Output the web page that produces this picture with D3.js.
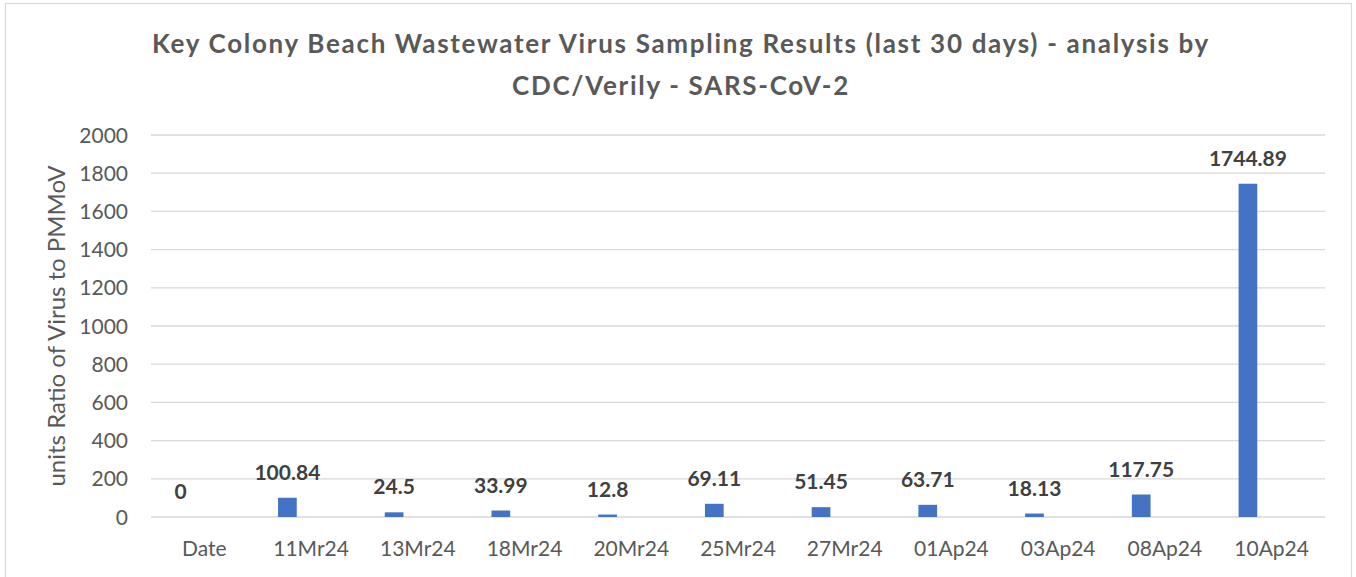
<!DOCTYPE html>
<html>
<head>
<meta charset="utf-8">
<script src="https://cdn.jsdelivr.net/npm/d3@7"></script>
<style>
  body { margin: 0; background: #fff; }
  text { font-family: Lato, "Open Sans", sans-serif; }
</style>
</head>
<body>
<div id="chart"></div>
<script>
// chart data
const categories = ["Date", "11Mr24", "13Mr24", "18Mr24", "20Mr24", "25Mr24", "27Mr24", "01Ap24", "03Ap24", "08Ap24", "10Ap24"];
const values = [0, 100.84, 24.5, 33.99, 12.8, 69.11, 51.45, 63.71, 18.13, 117.75, 1744.89];
const yTicks = [0, 200, 400, 600, 800, 1000, 1200, 1400, 1600, 1800, 2000];
const titleLines = ["Key Colony Beach Wastewater Virus Sampling Results (last 30 days) - analysis by", "CDC/Verily - SARS-CoV-2"];
const yTitle = "units Ratio of Virus to PMMoV";

const width = 1356, height = 577;
const plot = {left: 151, right: 1325, top: 135, bottom: 517};

const svg = d3.select("#chart").append("svg")
    .attr("width", width)
    .attr("height", height);

// outer border
svg.append("rect")
    .attr("x", 5.5).attr("y", 3.5)
    .attr("width", 1346).attr("height", 580)
    .attr("fill", "none")
    .attr("stroke", "#d9d9d9")
    .attr("stroke-width", 1.2);

const x = d3.scaleBand()
    .domain(categories)
    .range([plot.left, plot.right]);

const y = d3.scaleLinear()
    .domain([0, 2000])
    .range([plot.bottom, plot.top]);

// gridlines
svg.append("g")
    .selectAll("line")
    .data(yTicks)
    .join("line")
        .attr("x1", plot.left)
        .attr("x2", plot.right)
        .attr("y1", d => y(d))
        .attr("y2", d => y(d))
        .attr("stroke", "#d9d9d9")
        .attr("stroke-width", 1.3);

// y tick labels
svg.append("g")
    .selectAll("text")
    .data(yTicks)
    .join("text")
        .attr("x", 128)
        .attr("y", d => y(d))
        .attr("dy", "0.36em")
        .attr("text-anchor", "end")
        .attr("fill", "#595959")
        .style("font-size", "21px")
        .text(d => d);

// x tick labels
svg.append("g")
    .selectAll("text")
    .data(categories)
    .join("text")
        .attr("x", d => x(d) + x.bandwidth() / 2)
        .attr("y", 556)
        .attr("text-anchor", "middle")
        .attr("fill", "#595959")
        .style("font-size", "21px")
        .text(d => d);

// bars sit left of the category centre
const barW = 18.7;
const barShift = -23.7;
const cx = d => x(d) + x.bandwidth() / 2 + barShift;

svg.append("g")
    .selectAll("rect")
    .data(categories)
    .join("rect")
        .attr("x", d => cx(d) - barW / 2)
        .attr("y", (d, i) => y(values[i]))
        .attr("width", barW)
        .attr("height", (d, i) => y(0) - y(values[i]))
        .attr("fill", "#4472c4");

// data labels
svg.append("g")
    .selectAll("text")
    .data(categories)
    .join("text")
        .attr("x", d => cx(d))
        .attr("y", (d, i) => y(values[i]) - 18)
        .attr("text-anchor", "middle")
        .attr("fill", "#404040")
        .style("font-size", "21px")
        .style("font-weight", "bold")
        .text((d, i) => values[i]);

// y axis title
svg.append("text")
    .attr("transform", "translate(65,326) rotate(-90)")
    .attr("text-anchor", "middle")
    .attr("fill", "#595959")
    .style("font-size", "24px")
    .text(yTitle);

// chart title
const title = svg.append("g")
    .selectAll("text")
    .data(titleLines)
    .join("text")
        .attr("x", 681)
        .attr("y", (d, i) => 53 + i * 42)
        .attr("text-anchor", "middle")
        .attr("fill", "#595959")
        .style("font-size", "26px")
        .style("font-weight", "bold")
        .text(d => d);

// stretch the title a bit to match the original's wider face
const firstLen = title.node().getComputedTextLength();
const spacing = (1058 - firstLen) / titleLines[0].length;
title.style("letter-spacing", spacing + "px");
</script>
</body>
</html>
